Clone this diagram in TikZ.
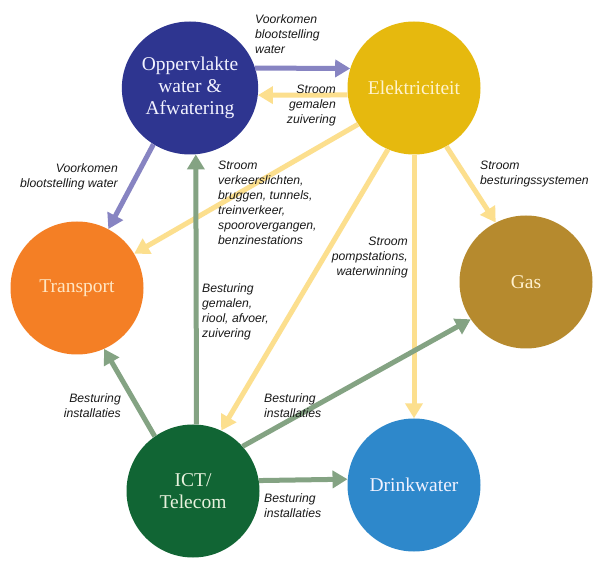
\documentclass[tikz,border=0pt]{standalone}
\usepackage{fontspec}
\setmainfont{Liberation Serif}
\setsansfont{Liberation Sans}
\usetikzlibrary{arrows.meta,shapes.geometric}
\definecolor{cOpp}{HTML}{2E3590}
\definecolor{cElek}{HTML}{E6B90E}
\definecolor{cTrans}{HTML}{F47F25}
\definecolor{cGas}{HTML}{B68A2E}
\definecolor{cIct}{HTML}{116534}
\definecolor{cDrink}{HTML}{2E88CB}
\definecolor{aPur}{HTML}{8784C2}
\definecolor{aYel}{HTML}{FCDF8E}
\definecolor{aGrn}{HTML}{84A383}
\definecolor{labc}{HTML}{1A1A1A}
\tikzset{
  hub/.style={ellipse,minimum width=133pt,minimum height=133pt,inner sep=0pt,
    font=\fontsize{19.5}{22}\selectfont,align=center},
  conn/.style={line width=5pt,-{Triangle[length=15pt,width=17pt]}},
  lab/.style={font=\sffamily\itshape\fontsize{12.2}{15}\selectfont,text=labc,inner sep=0pt}
}
\begin{document}
\begin{tikzpicture}[x=1pt,y=-1pt]
\useasboundingbox (0,0) rectangle (614,572);
\fill[white] (0,0) rectangle (614,572);
\node[hub,fill=cOpp,text=white!95!blue] (opp) at (190,88) {Oppervlakte\\water \&\\Afwatering};
\node[hub,fill=cElek,text={rgb,255:red,255;green,243;blue,205}] (elek) at (414,88) {Elektriciteit};
\node[hub,fill=cTrans,text={rgb,255:red,255;green,230;blue,195}] (trans) at (77,288) {Transport};
\node[hub,fill=cGas,text={rgb,255:red,255;green,240;blue,205}] (gas) at (526,282) {Gas};
\node[hub,fill=cIct,text={rgb,255:red,232;green,242;blue,222}] (ict) at (193,491) {ICT/\\Telecom};
\node[hub,fill=cDrink,text=white!95!blue] (drink) at (414,485) {Drinkwater};

\draw[conn,aPur] (opp.17) -- (elek.163);
\draw[conn,aYel] (elek.186) -- (opp.-6);
\draw[conn,aPur] (opp.-123) -- (trans.62);
\draw[conn,aYel] (elek.-147) -- (trans.31);
\draw[conn,aYel] (elek.-113) -- (ict.65);
\draw[conn,aYel] (elek.-90) -- (drink.90);
\draw[conn,aYel] (elek.-61) -- (gas.117);
\draw[conn,aGrn] (ict.87) -- (opp.-85);
\draw[conn,aGrn] (ict.125) -- (trans.-66);
\draw[conn,aGrn] (ict.42) -- (gas.-146);
\draw[conn,aGrn] (ict.9.6) -- (drink.175.7);

\node[lab,align=left,anchor=north west] (l1) at (255,14) {Voorkomen\\blootstelling\\water};
\node[lab,align=right,anchor=north east] (l2) at (336,85) {Stroom\\gemalen\\zuivering};
\node[lab,align=right,anchor=north east] (l3) at (118,163) {Voorkomen\\blootstelling water};
\node[lab,align=left,anchor=north west] (l4) at (218,161) {Stroom\\verkeerslichten,\\bruggen, tunnels,\\treinverkeer,\\spoorovergangen,\\benzinestations};
\node[lab,align=left,anchor=north west] (l5) at (202,283) {Besturing\\gemalen,\\riool, afvoer,\\zuivering};
\node[lab,align=right,anchor=north east] (l6) at (408,237) {Stroom\\pompstations,\\waterwinning};
\node[lab,align=left,anchor=north west] (l7) at (480,161) {Stroom\\besturingssystemen};
\node[lab,align=right,anchor=north east] (l8) at (121,393) {Besturing\\installaties};
\node[lab,align=left,anchor=north west] (l9) at (264,393) {Besturing\\installaties};
\node[lab,align=left,anchor=north west] (l10) at (264,493) {Besturing\\installaties};
\end{tikzpicture}
\end{document}
